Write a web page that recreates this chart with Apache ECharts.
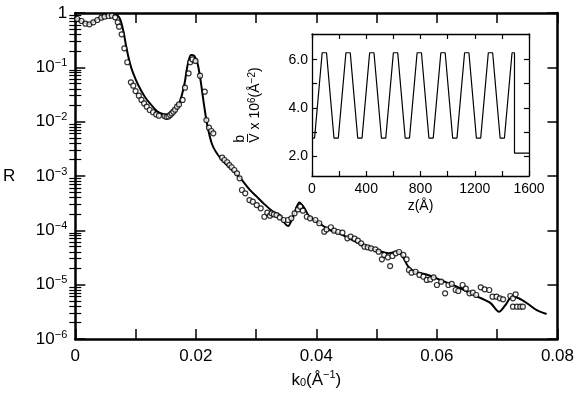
<!DOCTYPE html>
<html>
<head>
<meta charset="utf-8">
<script src="https://cdn.jsdelivr.net/npm/echarts@6/dist/echarts.min.js"></script>
<style>html,body{margin:0;padding:0;background:#fff;}#c{width:577px;height:401px;}</style>
</head>
<body>
<div id="c"></div>
<script>
// ---- main plot: fitted curve (R vs k0) ----
const kLine = [0.0000,0.0010,0.00225,0.0039,0.0055,0.0066,0.0074,0.0080,0.0085,0.00907,0.0096,0.01044,0.01153,0.0126,0.0137,0.0148,0.0156,0.01644,0.01727,0.01808,0.01864,0.0192,0.01972,0.02028,0.02082,0.02136,0.0219,0.02274,0.0241,0.02574,0.02738,0.0290,0.03011,0.0312,0.03284,0.03393,0.03475,0.0353,0.03612,0.0372,0.03803,0.03885,0.0405,0.04213,0.04377,0.0454,0.0476,0.0498,0.0520,0.05334,0.05415,0.05525,0.05634,0.05852,0.06126,0.0640,0.06672,0.0689,0.0703,0.07138,0.07248,0.07357,0.07492,0.07656,0.0782];
const rLine = [0.76,0.71,0.62,0.80,0.92,0.95,0.79,0.45,0.224,0.119,0.078,0.0473,0.0288,0.0204,0.0152,0.0136,0.0133,0.0152,0.0219,0.0473,0.110,0.169,0.164,0.119,0.0545,0.0203,0.0087,0.00372,0.00211,0.00138,0.000912,0.00055,0.000417,0.000316,0.00022,0.000191,0.000135,0.00012,0.000178,0.000324,0.000254,0.000178,0.000135,0.000102,8.81e-5,7.13e-5,5.37e-5,4.37e-5,3.80e-5,4.07e-5,3.55e-5,2.14e-5,1.74e-5,1.51e-5,1.135e-5,8.51e-6,6.03e-6,4.57e-6,3.16e-6,4.22e-6,6.03e-6,5.62e-6,4.57e-6,3.39e-6,2.88e-6];

// ---- main plot: measured points ----
const kData = [0.00033,0.00104,0.00169,0.00235,0.0030,0.00366,0.00432,0.00486,0.00552,0.00607,0.00661,0.00705,0.00727,0.0077,0.00814,0.00863,0.00923,0.00962,0.0100,0.01055,0.01098,0.01142,0.01186,0.01235,0.0129,0.01344,0.01388,0.0148,0.01514,0.01546,0.01574,0.0160,0.01628,0.01656,0.01689,0.01721,0.01781,0.0182,0.0188,0.01907,0.01945,0.01995,0.0207,0.02148,0.02175,0.02218,0.02257,0.0229,0.02437,0.02475,0.0252,0.02557,0.02595,0.02639,0.02683,0.02727,0.02765,0.0282,0.0289,0.02946,0.03011,0.03077,0.03137,0.03186,0.0323,0.03257,0.03295,0.03339,0.03393,0.03459,0.0353,0.03585,0.03639,0.03694,0.03732,0.03776,0.03842,0.03896,0.03984,0.04049,0.04131,0.04169,0.04241,0.04295,0.04361,0.04432,0.04514,0.04568,0.04634,0.04689,0.04743,0.04798,0.04852,0.04907,0.04979,0.05033,0.05087,0.05126,0.05186,0.05224,0.05262,0.05317,0.05372,0.05443,0.05497,0.05536,0.05579,0.05645,0.0571,0.05776,0.05831,0.0589,0.05945,0.0600,0.06071,0.06136,0.06191,0.06246,0.06311,0.06355,0.06426,0.0648,0.06541,0.06596,0.06651,0.06727,0.06792,0.06869,0.06923,0.06989,0.07044,0.07098,0.07218,0.07262,0.07306,0.07262,0.07328,0.07383,0.07426];
const rData = [0.776,0.713,0.637,0.618,0.673,0.743,0.820,0.857,0.881,0.893,0.832,0.673,0.560,0.405,0.224,0.124,0.0530,0.0460,0.0366,0.0301,0.0251,0.0217,0.0189,0.0164,0.0149,0.0136,0.0129,0.0127,0.0122,0.0125,0.0133,0.0142,0.0153,0.0166,0.0189,0.0208,0.0251,0.0423,0.0776,0.124,0.140,0.131,0.0703,0.0356,0.0107,0.00774,0.00673,0.00610,0.00217,0.00197,0.00179,0.00159,0.00145,0.00129,0.00112,0.000906,0.000552,0.000480,0.000361,0.000337,0.000292,0.000254,0.000178,0.000211,0.000186,0.000206,0.000197,0.000191,0.000173,0.000155,0.000155,0.000166,0.000206,0.000243,0.000272,0.000230,0.000178,0.000166,0.000155,0.000135,9.44e-5,0.000104,0.000114,9.86e-5,9.31e-5,9.06e-5,7.13e-5,7.64e-5,7.03e-5,6.46e-5,5.77e-5,5.00e-5,4.86e-5,4.67e-5,4.47e-5,4.05e-5,2.93e-5,3.52e-5,3.18e-5,2.20e-5,3.37e-5,3.78e-5,3.99e-5,3.52e-5,2.93e-5,1.86e-5,1.66e-5,1.73e-5,1.51e-5,1.40e-5,1.22e-5,1.25e-5,1.36e-5,9.86e-6,1.135e-5,6.93e-6,9.86e-6,1.03e-5,7.98e-6,7.64e-6,9.86e-6,8.43e-6,6.93e-6,7.13e-6,6.46e-6,8.93e-6,8.20e-6,7.98e-6,6.01e-6,6.01e-6,5.60e-6,5.37e-6,6.18e-6,5.60e-6,6.64e-6,3.93e-6,3.93e-6,3.93e-6,3.93e-6];

// ---- inset: scattering-length-density profile ----
const zProfile = [0,19,75,107,162,194,250,282,337,369,425,457,512,544,600,632,687,719,775,807,862,894,950,982,1037,1069,1125,1157,1212,1244,1300,1332,1387,1419,1475,1493,1493,1600];
const bvProfile = [2.74,2.74,6.29,6.29,2.74,2.74,6.29,6.29,2.74,2.74,6.29,6.29,2.74,2.74,6.29,6.29,2.74,2.74,6.29,6.29,2.74,2.74,6.29,6.29,2.74,2.74,6.29,6.29,2.74,2.74,6.29,6.29,2.74,2.74,6.29,6.29,2.11,2.11];

// ---- ticks / labels ----
const xTickValues = [0,0.01,0.02,0.03,0.04,0.05,0.06,0.07,0.08];
const xLabelValues = [0,0.02,0.04,0.06,0.08];
const xTickLabels = ['0','0.02','0.04','0.06','0.08'];
const yTickValues = [1e-6,1e-5,1e-4,1e-3,1e-2,1e-1,1];
const yTickLabels = ['{n|10}{s|−6}','{n|10}{s|−5}','{n|10}{s|−4}','{n|10}{s|−3}','{n|10}{s|−2}','{n|10}{s|−1}','{n|1}'];
const insetXTickValues = [0,200,400,600,800,1000,1200,1400,1600];
const insetXLabelValues = [0,400,800,1200,1600];
const insetXTickLabels = ['0','400','800','1200','1600'];
const insetYTickValues = [2,3,4,5,6];
const insetYLabelValues = [2,4,6];
const insetYTickLabels = ['2.0','4.0','6.0'];

const yMinor = [];
for (let e = -6; e < 0; e++) { for (let m = 2; m <= 9; m++) { yMinor.push(m * Math.pow(10, e)); } }

const FONT = 'Liberation Sans';
const richMain = {
  n: {fontFamily: FONT, fontSize: 17, color: '#000'},
  s: {fontFamily: FONT, fontSize: 11, color: '#000', verticalAlign: 'bottom', padding: [0,0,9,0]},
  b: {fontFamily: FONT, fontSize: 11, color: '#000', verticalAlign: 'top', padding: [8,0,0,0]}
};
const richInset = {
  tb: {fontFamily: FONT, fontSize: 14, color: '#000', align: 'left'},
  t: {fontFamily: FONT, fontSize: 14, color: '#000'},
  s: {fontFamily: FONT, fontSize: 10, color: '#000', verticalAlign: 'bottom', padding: [0,0,7,0]}
};
const blk = '#000';

const chart = echarts.init(document.getElementById('c'), null, {renderer: 'canvas'});
const option = {
  backgroundColor: '#fff',
  animation: false,
  grid: [
    {left: 73, right: 16, top: 13, bottom: 62, containLabel: false},
    {left: 312, right: 48, top: 34, bottom: 225, containLabel: false, show: true, backgroundColor: '#fff', borderWidth: 0, z: 3}
  ],
  xAxis: [
    {type: 'value', gridIndex: 0, min: 0, max: 0.08, position: 'bottom',
     axisLine: {show: true, onZero: false, lineStyle: {color: blk, width: 2.5}},
     axisTick: {show: true, inside: true, length: 10, customValues: xTickValues, lineStyle: {color: blk, width: 1.5}},
     axisLabel: {show: true, margin: 9, customValues: xLabelValues, fontFamily: FONT, fontSize: 17, color: blk,
       formatter: v => xTickLabels[xLabelValues.findIndex(x => Math.abs(x - v) < 1e-9)]},
     splitLine: {show: false},
     name: '{n|k}{b|0}{n|(Å}{s|−1}{n|)}', nameLocation: 'middle', nameGap: 24,
     nameTextStyle: {rich: richMain}},
    {type: 'value', gridIndex: 0, min: 0, max: 0.08, position: 'top',
     axisLine: {show: true, onZero: false, lineStyle: {color: blk, width: 2.5}},
     axisTick: {show: true, inside: true, length: 10, customValues: xTickValues, lineStyle: {color: blk, width: 1.5}},
     axisLabel: {show: false}, splitLine: {show: false}},
    {type: 'value', gridIndex: 1, min: 0, max: 1600, position: 'bottom', z: 4,
     axisLine: {show: true, onZero: false, lineStyle: {color: blk, width: 1.3}},
     axisTick: {show: true, inside: true, length: 5, customValues: insetXTickValues, lineStyle: {color: blk, width: 1.2}},
     axisLabel: {show: true, margin: 6, customValues: insetXLabelValues, fontFamily: FONT, fontSize: 14, color: blk,
       formatter: v => insetXTickLabels[insetXLabelValues.indexOf(v)]},
     splitLine: {show: false},
     name: 'z(Å)', nameLocation: 'middle', nameGap: 23, nameTextStyle: {fontFamily: FONT, fontSize: 14, color: blk}},
    {type: 'value', gridIndex: 1, min: 0, max: 1600, position: 'top', z: 4,
     axisLine: {show: true, onZero: false, lineStyle: {color: blk, width: 1.3}},
     axisTick: {show: true, inside: true, length: 5, customValues: insetXTickValues, lineStyle: {color: blk, width: 1.2}},
     axisLabel: {show: false}, splitLine: {show: false}}
  ],
  yAxis: [
    {type: 'log', logBase: 10, gridIndex: 0, min: 1e-6, max: 1, position: 'left',
     axisLine: {show: true, onZero: false, lineStyle: {color: blk, width: 2.5}},
     axisTick: {show: true, inside: true, length: 10, customValues: yTickValues, lineStyle: {color: blk, width: 1.5}},
     axisLabel: {show: true, margin: 8, customValues: yTickValues,
       formatter: v => yTickLabels[Math.round(Math.log10(v)) + 6], rich: richMain},
     splitLine: {show: false},
     name: 'R', nameLocation: 'middle', nameRotate: 0, nameGap: 60,
     nameTextStyle: {fontFamily: FONT, fontSize: 17, color: blk}},
    {type: 'log', logBase: 10, gridIndex: 0, min: 1e-6, max: 1, position: 'left',
     axisLine: {show: false},
     axisTick: {show: true, inside: true, length: 6, customValues: yMinor, lineStyle: {color: blk, width: 1.2}},
     axisLabel: {show: false}, splitLine: {show: false}},
    {type: 'log', logBase: 10, gridIndex: 0, min: 1e-6, max: 1, position: 'right',
     axisLine: {show: true, onZero: false, lineStyle: {color: blk, width: 2.5}},
     axisTick: {show: true, inside: true, length: 10, customValues: yTickValues, lineStyle: {color: blk, width: 1.5}},
     axisLabel: {show: false}, splitLine: {show: false}},
    {type: 'log', logBase: 10, gridIndex: 0, min: 1e-6, max: 1, position: 'right',
     axisLine: {show: false},
     axisTick: {show: true, inside: true, length: 6, customValues: yMinor, lineStyle: {color: blk, width: 1.2}},
     axisLabel: {show: false}, splitLine: {show: false}},
    {type: 'value', gridIndex: 1, min: 1.16, max: 7.07, position: 'left', z: 4,
     axisLine: {show: true, onZero: false, lineStyle: {color: blk, width: 1.3}},
     axisTick: {show: true, inside: true, length: 5, customValues: insetYTickValues, lineStyle: {color: blk, width: 1.2}},
     axisLabel: {show: true, margin: 4, customValues: insetYLabelValues, fontFamily: FONT, fontSize: 14, color: blk,
       formatter: v => insetYTickLabels[insetYLabelValues.indexOf(v)]},
     splitLine: {show: false},
     name: '{tb|b}\n{t|V\u0305 x 10}{s|6}{t|(Å}{s|−2}{t|)}', nameLocation: 'middle', nameRotate: 90, nameGap: 48,
     nameTextStyle: {rich: richInset}},
    {type: 'value', gridIndex: 1, min: 1.16, max: 7.07, position: 'right', z: 4,
     axisLine: {show: true, onZero: false, lineStyle: {color: blk, width: 1.3}},
     axisTick: {show: true, inside: true, length: 5, customValues: insetYTickValues, lineStyle: {color: blk, width: 1.2}},
     axisLabel: {show: false}, splitLine: {show: false}}
  ],
  series: [
    {type: 'line', xAxisIndex: 0, yAxisIndex: 0, data: kLine.map((k, i) => [k, rLine[i]]),
     showSymbol: false, smooth: 0.3, lineStyle: {color: blk, width: 2}, z: 2},
    {type: 'scatter', xAxisIndex: 0, yAxisIndex: 0, data: kData.map((k, i) => [k, rData[i]]),
     symbol: 'circle', symbolSize: 5, itemStyle: {color: '#fff', borderColor: blk, borderWidth: 1.2}, z: 3},
    {type: 'line', xAxisIndex: 2, yAxisIndex: 4, data: zProfile.map((z, i) => [z, bvProfile[i]]),
     showSymbol: false, smooth: false, lineStyle: {color: blk, width: 1.2}, z: 5}
  ]
};
chart.setOption(option);
</script>
</body>
</html>
